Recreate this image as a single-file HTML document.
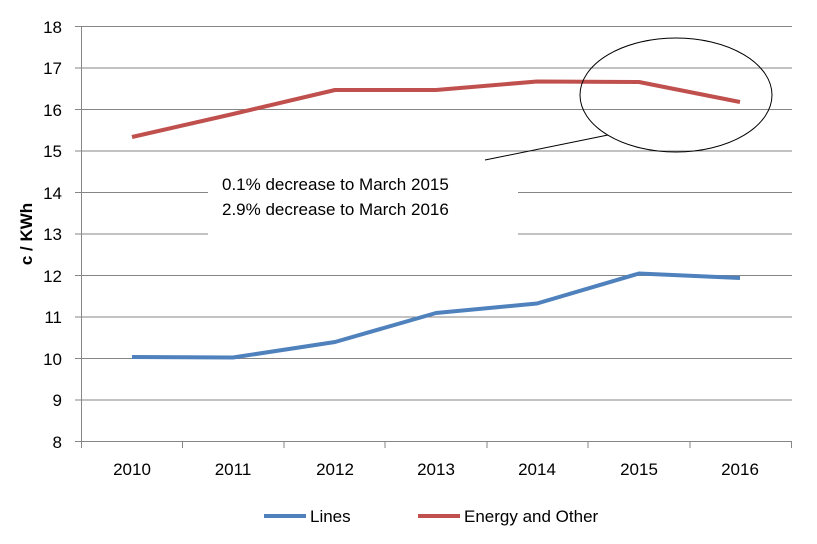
<!DOCTYPE html>
<html><head><style>body{margin:0;background:#fff}</style></head><body>
<svg width="817" height="539" xmlns="http://www.w3.org/2000/svg" font-family="Liberation Sans, sans-serif">
<g stroke="#868686" stroke-width="1">
<line x1="75" y1="26.5" x2="792" y2="26.5"/>
<line x1="75" y1="68" x2="792" y2="68"/>
<line x1="75" y1="109.5" x2="792" y2="109.5"/>
<line x1="75" y1="151" x2="792" y2="151"/>
<line x1="75" y1="192.5" x2="792" y2="192.5"/>
<line x1="75" y1="234" x2="792" y2="234"/>
<line x1="75" y1="275.5" x2="792" y2="275.5"/>
<line x1="75" y1="317" x2="792" y2="317"/>
<line x1="75" y1="358.5" x2="792" y2="358.5"/>
<line x1="75" y1="400" x2="792" y2="400"/>
<line x1="75" y1="441.5" x2="792" y2="441.5"/>
<line x1="81.5" y1="26.5" x2="81.5" y2="448"/>
<line x1="182.5" y1="441.5" x2="182.5" y2="448"/>
<line x1="284" y1="441.5" x2="284" y2="448"/>
<line x1="385" y1="441.5" x2="385" y2="448"/>
<line x1="487" y1="441.5" x2="487" y2="448"/>
<line x1="588" y1="441.5" x2="588" y2="448"/>
<line x1="690" y1="441.5" x2="690" y2="448"/>
<line x1="791.5" y1="441.5" x2="791.5" y2="448"/>
</g>
<rect x="208" y="162" width="310" height="74" fill="#fff"/>
<g font-size="17" fill="#000" text-anchor="end">
<text x="62" y="33">18</text><text x="62" y="74">17</text><text x="62" y="116">16</text><text x="62" y="157">15</text><text x="62" y="199">14</text><text x="62" y="240">13</text><text x="62" y="282">12</text><text x="62" y="323">11</text><text x="62" y="365">10</text><text x="62" y="406">9</text><text x="62" y="448">8</text>
</g>
<g font-size="17" fill="#000" text-anchor="middle">
<text x="132" y="475">2010</text><text x="233" y="475">2011</text><text x="335" y="475">2012</text><text x="436" y="475">2013</text><text x="537" y="475">2014</text><text x="639" y="475">2015</text><text x="740" y="475">2016</text>
</g>
<text transform="translate(32,234) rotate(-90)" font-size="17" font-weight="bold" text-anchor="middle">c / KWh</text>
<polyline fill="none" stroke="#c0504d" stroke-width="4" stroke-linejoin="round" points="132,137 233,114 335,90 436,90 537,81.5 639,82 740,102"/>
<polyline fill="none" stroke="#4f81bd" stroke-width="4" stroke-linejoin="round" points="132,357 233,357.5 335,342 436,313 537,303.5 639,273.5 740,278"/>
<ellipse cx="676" cy="95" rx="96" ry="57" fill="none" stroke="#000" stroke-width="1"/>
<line x1="485" y1="160" x2="608" y2="135" stroke="#000" stroke-width="1"/>
<text x="222" y="190" font-size="17">0.1% decrease to March 2015</text>
<text x="222" y="215" font-size="17">2.9% decrease to March 2016</text>
<line x1="264" y1="516" x2="306" y2="516" stroke="#4f81bd" stroke-width="4"/>
<text x="310" y="522" font-size="17">Lines</text>
<line x1="418" y1="516" x2="460" y2="516" stroke="#c0504d" stroke-width="4"/>
<text x="464" y="522" font-size="17">Energy and Other</text>
</svg>
</body></html>
